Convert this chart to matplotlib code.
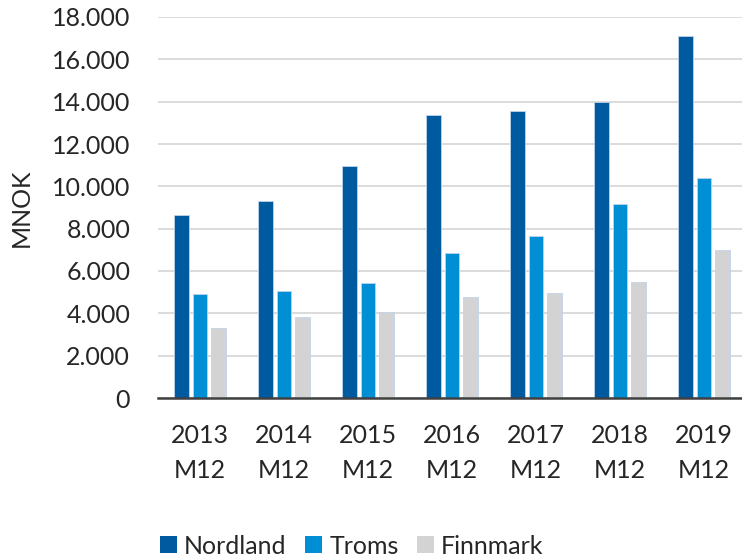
import matplotlib
matplotlib.use("Agg")
import matplotlib.pyplot as plt
import numpy as np
from matplotlib.ticker import FuncFormatter

categories = ["2013\nM12", "2014\nM12", "2015\nM12", "2016\nM12", "2017\nM12", "2018\nM12", "2019\nM12"]
nordland = [8630, 9310, 10960, 13390, 13570, 13970, 17090]
troms = [4910, 5060, 5420, 6850, 7650, 9170, 10390]
finnmark = [3310, 3830, 4060, 4790, 4960, 5500, 6990]
series_names = ["Nordland", "Troms", "Finnmark"]
colors = ["#005AA0", "#008FD5", "#D3D3D3"]

plt.rcParams['font.family'] = ['Lato', 'DejaVu Sans']
W, H = 742, 557
fig = plt.figure(figsize=(W / 100, H / 100), dpi=100)
ax_left, ax_right, ax_top, ax_bottom = 158, 742, 17, 398
ax = fig.add_axes([ax_left / W, 1 - ax_bottom / H, (ax_right - ax_left) / W, (ax_bottom - ax_top) / H])

x = np.arange(len(categories))
bw = 0.173
off = 0.222
for i, (vals, c, name) in enumerate(zip([nordland, troms, finnmark], colors, series_names)):
    ax.bar(x + (i - 1) * off, vals, width=bw, color=c, label=name,
           edgecolor="#BFD4EA", linewidth=0.6, zorder=3)

ax.set_ylim(0, 18000)
ax.set_xlim(-0.5, -0.5 + (ax_right - ax_left) / 84.0)
ax.set_yticks(np.arange(0, 18001, 2000))
ax.yaxis.set_major_formatter(FuncFormatter(lambda v, p: f"{int(v):,}".replace(",", ".")))
ax.set_xticks(x)
ax.set_xticklabels(categories, linespacing=1.6)
ax.grid(axis="y", color="#D9D9D9", linewidth=1.3, zorder=0)
ax.set_axisbelow(True)
for s in ["top", "right", "left"]:
    ax.spines[s].set_visible(False)
ax.spines["bottom"].set_color("#404040")
ax.spines["bottom"].set_linewidth(1.8)
ax.spines["bottom"].set_zorder(4)
ax.tick_params(axis="both", length=0, labelsize=18, colors="#404040", labelcolor="#262626")
ax.tick_params(axis="y", pad=20)
ax.tick_params(axis="x", pad=19)
ax.set_ylabel("MNOK", fontsize=18, color="#262626", labelpad=14)

leg = fig.legend(loc="center", bbox_to_anchor=(352 / W, 1 - 546 / H), ncol=3, frameon=False,
                 fontsize=18, handlelength=0.65, handleheight=0.65, handletextpad=0.3,
                 columnspacing=0.75, labelcolor="#262626")
for h in leg.legend_handles:
    h.set_edgecolor("none")

fig.savefig("out.png", dpi=100)
